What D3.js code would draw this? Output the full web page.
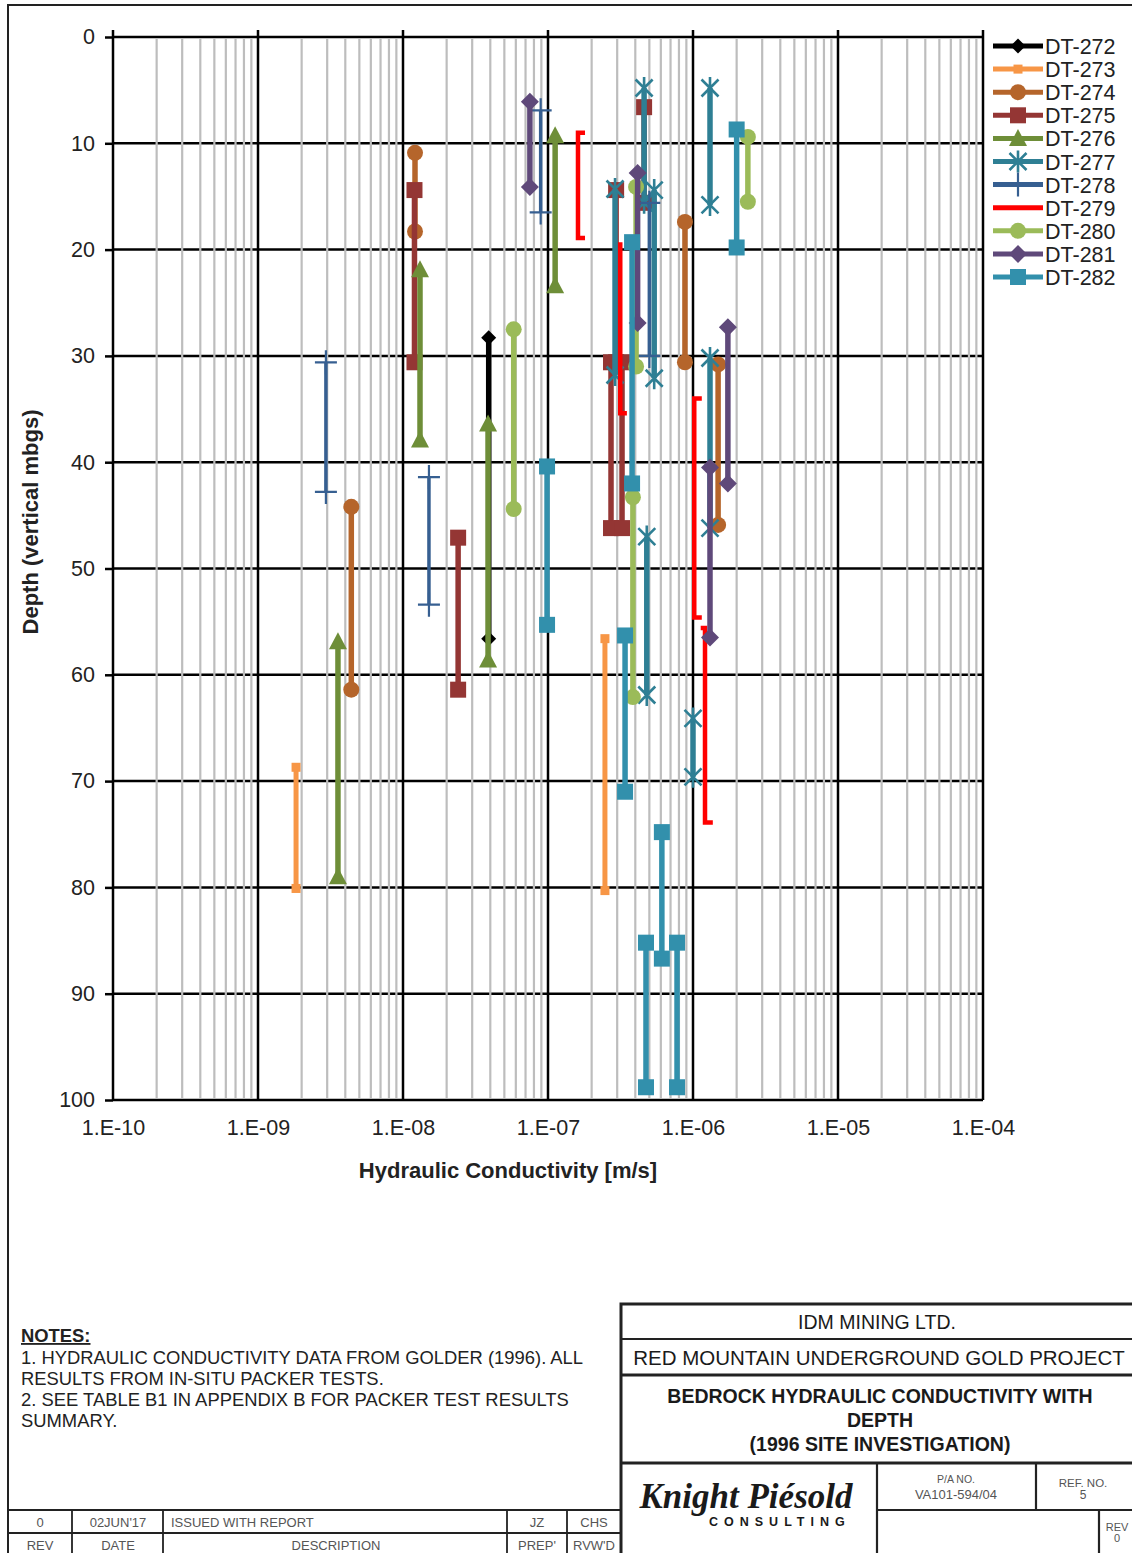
<!doctype html>
<html lang="en">
<head>
<meta charset="utf-8">
<title>Bedrock Hydraulic Conductivity with Depth</title>
<script src="https://cdn.jsdelivr.net/npm/d3@7"></script>
<style>
  body { margin: 0; background: #fff; }
  svg { display: block; font-family: "Liberation Sans", Arial, sans-serif; }
</style>
</head>
<body>
<div id="chart"></div>
<script>
// ---- data: [hydraulic conductivity (m/s), depth (m)] per test interval ----
var seriesNames = ["DT-272", "DT-273", "DT-274", "DT-275", "DT-276", "DT-277",
                   "DT-278", "DT-279", "DT-280", "DT-281", "DT-282"];

var dt272 = [[[3.9e-8, 28.3], [3.9e-8, 56.6]]];
var dt273 = [[[1.83e-9, 68.7], [1.83e-9, 80.1]],
             [[2.47e-7, 56.6], [2.47e-7, 80.3]]];
var dt274 = [[[1.21e-8, 10.9], [1.21e-8, 18.3]],
             [[4.4e-9, 44.2], [4.4e-9, 61.4]],
             [[8.8e-7, 17.4], [8.8e-7, 30.6]],
             [[1.49e-6, 30.8], [1.49e-6, 45.9]]];
var dt275 = [[[1.2e-8, 14.4], [1.2e-8, 30.6]],
             [[2.4e-8, 47.1], [2.4e-8, 61.4]],
             [[4.6e-7, 6.6], [4.6e-7, 15.6]],
             [[2.95e-7, 14.4], [2.95e-7, 30.6]],
             [[2.72e-7, 30.6], [2.72e-7, 46.2]],
             [[3.24e-7, 30.6], [3.24e-7, 46.2]]];
var dt276 = [[[1.31e-8, 21.9], [1.31e-8, 37.9]],
             [[1.12e-7, 9.3], [1.12e-7, 23.4]],
             [[3.56e-9, 56.9], [3.56e-9, 79.0]],
             [[3.86e-8, 36.4], [3.86e-8, 58.6]]];
var dt277 = [[[4.6e-7, 4.8], [4.6e-7, 15.6]],
             [[5.4e-7, 14.4], [5.4e-7, 32.1]],
             [[2.9e-7, 14.3], [2.9e-7, 31.8]],
             [[4.8e-7, 47.0], [4.8e-7, 61.9]],
             [[1.31e-6, 4.8], [1.31e-6, 15.8]],
             [[1.31e-6, 30.2], [1.31e-6, 46.2]],
             [[1.0e-6, 64.1], [1.0e-6, 69.6]]];
var dt278 = [[[8.9e-8, 6.9], [8.9e-8, 16.5]],
             [[2.94e-9, 30.6], [2.94e-9, 42.8]],
             [[1.51e-8, 41.4], [1.51e-8, 53.4]],
             [[5.0e-7, 15.6], [5.0e-7, 30.0]]];
var dt279 = [[[1.8e-7, 9.0], [1.61e-7, 9.0], [1.61e-7, 18.9], [1.8e-7, 18.9]],
             [[3.15e-7, 19.3], [3.15e-7, 35.4], [3.5e-7, 35.4]],
             [[1.15e-6, 34.0], [1.02e-6, 34.0], [1.02e-6, 54.6], [1.15e-6, 54.6]],
             [[1.13e-6, 55.6], [1.21e-6, 55.6], [1.21e-6, 73.9], [1.37e-6, 73.9]]];
var dt280 = [[[5.8e-8, 27.5], [5.8e-8, 44.4]],
             [[2.39e-6, 9.4], [2.39e-6, 15.5]],
             [[4.05e-7, 14.1], [4.05e-7, 31.0]],
             [[3.85e-7, 43.3], [3.85e-7, 62.1]]];
var dt281 = [[[7.5e-8, 6.1], [7.5e-8, 14.1]],
             [[4.15e-7, 12.8], [4.15e-7, 26.9]],
             [[1.74e-6, 27.3], [1.74e-6, 42.0]],
             [[1.31e-6, 40.5], [1.31e-6, 56.5]]];
var dt282 = [[[2.0e-6, 8.7], [2.0e-6, 19.8]],
             [[9.85e-8, 40.4], [9.85e-8, 55.3]],
             [[3.8e-7, 19.3], [3.8e-7, 42.0]],
             [[3.4e-7, 56.3], [3.4e-7, 71.0]],
             [[6.1e-7, 74.8], [6.1e-7, 86.7]],
             [[4.74e-7, 85.2], [4.74e-7, 98.8]],
             [[7.76e-7, 85.2], [7.76e-7, 98.8]]];

var seriesData = [dt272, dt273, dt274, dt275, dt276, dt277, dt278, dt279, dt280, dt281, dt282];

var xTickValues = [1e-10, 1e-9, 1e-8, 1e-7, 1e-6, 1e-5, 1e-4];
var xTickLabels = ["1.E-10", "1.E-09", "1.E-08", "1.E-07", "1.E-06", "1.E-05", "1.E-04"];
var yTickValues = [0, 10, 20, 30, 40, 50, 60, 70, 80, 90, 100];

// ---- styles ----
var seriesColors = ["#000000", "#F79646", "#B5652B", "#943634", "#6E8E38", "#2E7F94",
                    "#365F91", "#FF0000", "#9BBB59", "#5F497A", "#3290AC"];
var seriesMarkers = ["diamondS", "tiny", "circle", "square", "triangle", "asterisk",
                     "plus", "none", "circle", "diamond", "square"];
var seriesWidths = [5.5, 5, 5.5, 5.5, 5.5, 5.5, 3.5, 4.5, 5.5, 5.5, 5.5];

var W = 1132, H = 1553;
var pLeft = 113, pRight = 983, pTop = 37, pBottom = 1100;

var svg = d3.select("#chart").append("svg")
    .attr("width", W).attr("height", H);

svg.append("rect").attr("width", W).attr("height", H).attr("fill", "#fff");

var x = d3.scaleLog().domain([1e-10, 1e-4]).range([pLeft, pRight]);
var y = d3.scaleLinear().domain([0, 100]).range([pTop, pBottom]);

// ---- grid ----
var grid = svg.append("g");
grid.selectAll("line.h").data(yTickValues).enter().append("line")
    .attr("x1", pLeft).attr("x2", pRight)
    .attr("y1", d => y(d)).attr("y2", d => y(d))
    .attr("stroke", "#000").attr("stroke-width", 2.5);

var minor = [];
xTickValues.slice(0, -1).forEach(function (v) {
  for (var k = 2; k <= 9; k++) minor.push(v * k);
});
grid.selectAll("line.mv").data(minor).enter().append("line")
    .attr("x1", d => x(d)).attr("x2", d => x(d))
    .attr("y1", pTop + 1).attr("y2", pBottom - 1)
    .attr("stroke", "#BDBDBD").attr("stroke-width", 2.2);

grid.selectAll("line.v").data(xTickValues).enter().append("line")
    .attr("x1", d => x(d)).attr("x2", d => x(d))
    .attr("y1", pTop - 7).attr("y2", pBottom)
    .attr("stroke", "#000").attr("stroke-width", 2.5);

// y axis ticks + labels
svg.append("g").attr("transform", "translate(" + pLeft + ",0)")
  .call(d3.axisLeft(y).tickValues(yTickValues).tickSize(8).tickPadding(10))
  .call(g => g.select(".domain").remove())
  .call(g => g.selectAll("line").attr("stroke", "#000").attr("stroke-width", 2.5))
  .call(g => g.selectAll("text").attr("font-size", 21.5).attr("fill", "#222")
      .attr("font-family", "Liberation Sans, Arial, sans-serif"));

// x axis labels
svg.append("g").attr("transform", "translate(0," + pBottom + ")")
  .call(d3.axisBottom(x).tickValues(xTickValues).tickSize(0).tickPadding(20)
      .tickFormat((d, i) => xTickLabels[i]))
  .call(g => g.select(".domain").remove())
  .call(g => g.selectAll("text").attr("font-size", 21.5).attr("fill", "#222")
      .attr("font-family", "Liberation Sans, Arial, sans-serif"));

svg.append("text").attr("x", 508).attr("y", 1178)
  .attr("text-anchor", "middle").attr("font-size", 22).attr("font-weight", "bold")
  .attr("fill", "#222").text("Hydraulic Conductivity [m/s]");

svg.append("text").attr("transform", "translate(38,522) rotate(-90)")
  .attr("text-anchor", "middle").attr("font-size", 22).attr("font-weight", "bold")
  .attr("fill", "#222").text("Depth (vertical mbgs)");

// ---- markers ----
function marker(sel, type, color) {
  if (type === "circle") sel.append("circle").attr("r", 8).attr("fill", color);
  else if (type === "square") sel.append("rect").attr("x", -8).attr("y", -8)
      .attr("width", 16).attr("height", 16).attr("fill", color);
  else if (type === "tiny") sel.append("rect").attr("x", -4.5).attr("y", -4.5)
      .attr("width", 9).attr("height", 9).attr("fill", color);
  else if (type === "triangle") sel.append("path")
      .attr("d", "M0,-9.5L9,7.5L-9,7.5Z").attr("fill", color);
  else if (type === "diamond") sel.append("path")
      .attr("d", "M0,-9L9,0L0,9L-9,0Z").attr("fill", color);
  else if (type === "diamondS") sel.append("path")
      .attr("d", "M0,-7.5L7.5,0L0,7.5L-7.5,0Z").attr("fill", color);
  else if (type === "plus") sel.append("path")
      .attr("d", "M-11,0H11M0,-12V12").attr("stroke", color).attr("stroke-width", 2.2);
  else if (type === "asterisk") sel.append("path")
      .attr("d", "M-8.5,-8.5L8.5,8.5M-8.5,8.5L8.5,-8.5M0,-11V11").attr("stroke", color)
      .attr("stroke-width", 2.6).attr("fill", "none");
}

var line = d3.line().x(d => x(d[0])).y(d => y(d[1]));
var plot = svg.append("g");

seriesData.forEach(function (segs, i) {
  var g = plot.append("g");
  g.selectAll("path.seg").data(segs).enter().append("path")
    .attr("d", line).attr("fill", "none")
    .attr("stroke", seriesColors[i]).attr("stroke-width", seriesWidths[i])
    .attr("stroke-linejoin", "miter");
  if (seriesMarkers[i] !== "none") {
    var pts = [];
    segs.forEach(s => s.forEach(p => pts.push(p)));
    g.selectAll("g.m").data(pts).enter().append("g")
      .attr("transform", d => "translate(" + x(d[0]) + "," + y(d[1]) + ")")
      .each(function () { marker(d3.select(this), seriesMarkers[i], seriesColors[i]); });
  }
});

// ---- legend ----
var legend = svg.append("g");
seriesNames.forEach(function (name, i) {
  var ly = 46 + i * 23.1;
  var lg = legend.append("g").attr("transform", "translate(993," + ly + ")");
  lg.append("line").attr("x1", 0).attr("x2", 50)
    .attr("stroke", seriesColors[i]).attr("stroke-width", 5);
  if (seriesMarkers[i] !== "none") {
    var mg = lg.append("g").attr("transform", "translate(25,0)");
    marker(mg, seriesMarkers[i], seriesColors[i]);
  }
  lg.append("text").attr("x", 52).attr("y", 8).attr("font-size", 21.5)
    .attr("fill", "#222").text(name);
});

// ---- drawing frame and title block ----
var frame = svg.append("g").attr("stroke", "#222").attr("fill", "none");
frame.append("path").attr("d", "M8,1553V5H1132").attr("stroke-width", 2);

// notes
var notes = svg.append("g").attr("font-size", 18.4).attr("fill", "#222");
notes.append("text").attr("x", 21).attr("y", 1342).attr("font-weight", "bold")
  .attr("text-decoration", "underline").text("NOTES:");
["1. HYDRAULIC CONDUCTIVITY DATA FROM GOLDER (1996). ALL",
 "RESULTS FROM IN-SITU PACKER TESTS.",
 "2. SEE TABLE B1 IN APPENDIX B FOR PACKER TEST RESULTS",
 "SUMMARY."].forEach(function (t, i) {
  notes.append("text").attr("x", 21).attr("y", 1364 + i * 21).text(t);
});

// revision table
frame.append("path").attr("stroke-width", 1.8)
  .attr("d", "M8,1510H621M8,1533H621M72,1510V1553M163,1510V1553M507,1510V1553M567,1510V1553");
var rev = svg.append("g").attr("font-size", 13).attr("fill", "#555").attr("text-anchor", "middle");
[[40, "0", "REV"], [118, "02JUN'17", "DATE"], [336, "", "DESCRIPTION"],
 [537, "JZ", "PREP'"], [594, "CHS", "RVW'D"]].forEach(function (c) {
  rev.append("text").attr("x", c[0]).attr("y", 1527).text(c[1]);
  rev.append("text").attr("x", c[0]).attr("y", 1550).text(c[2]);
});
rev.append("text").attr("x", 171).attr("y", 1527).attr("text-anchor", "start")
  .text("ISSUED WITH REPORT");

// title block
frame.append("path").attr("stroke-width", 3).attr("d", "M621,1553V1304H1132");
frame.append("path").attr("stroke-width", 1.8).attr("d", "M621,1339H1132");
frame.append("path").attr("stroke-width", 2.8).attr("d", "M621,1375H1132M621,1463H1132");
frame.append("path").attr("stroke-width", 2.2)
  .attr("d", "M877,1463V1553M877,1510H1132M1036,1463V1510M1099,1510V1553");

var tb = svg.append("g").attr("fill", "#1a1a1a").attr("text-anchor", "middle");
tb.append("text").attr("x", 877).attr("y", 1329).attr("font-size", 19.5).text("IDM MINING LTD.");
tb.append("text").attr("x", 879).attr("y", 1365).attr("font-size", 20.5)
  .text("RED MOUNTAIN UNDERGROUND GOLD PROJECT");
["BEDROCK HYDRAULIC CONDUCTIVITY WITH", "DEPTH", "(1996 SITE INVESTIGATION)"]
  .forEach(function (t, i) {
    tb.append("text").attr("x", 880).attr("y", 1403 + i * 24).attr("font-size", 19.5)
      .attr("font-weight", "bold").text(t);
  });
tb.append("text").attr("x", 746).attr("y", 1508)
  .attr("font-family", "Liberation Serif, Times New Roman, serif")
  .attr("font-size", 35).attr("font-weight", "bold").attr("font-style", "italic")
  .text("Knight Piésold");
tb.append("text").attr("x", 709).attr("y", 1526).attr("text-anchor", "start")
  .attr("font-size", 12.5).attr("font-weight", "bold").attr("letter-spacing", 6)
  .text("CONSULTING");
var small = svg.append("g").attr("fill", "#555").attr("text-anchor", "middle");
small.append("text").attr("x", 956).attr("y", 1483).attr("font-size", 10.5).text("P/A NO.");
small.append("text").attr("x", 956).attr("y", 1499).attr("font-size", 13).text("VA101-594/04");
small.append("text").attr("x", 1083).attr("y", 1487).attr("font-size", 11.5).text("REF. NO.");
small.append("text").attr("x", 1083).attr("y", 1499).attr("font-size", 12).text("5");
small.append("text").attr("x", 1117).attr("y", 1531).attr("font-size", 11).text("REV");
small.append("text").attr("x", 1117).attr("y", 1542).attr("font-size", 11).text("0");
</script>
</body>
</html>
